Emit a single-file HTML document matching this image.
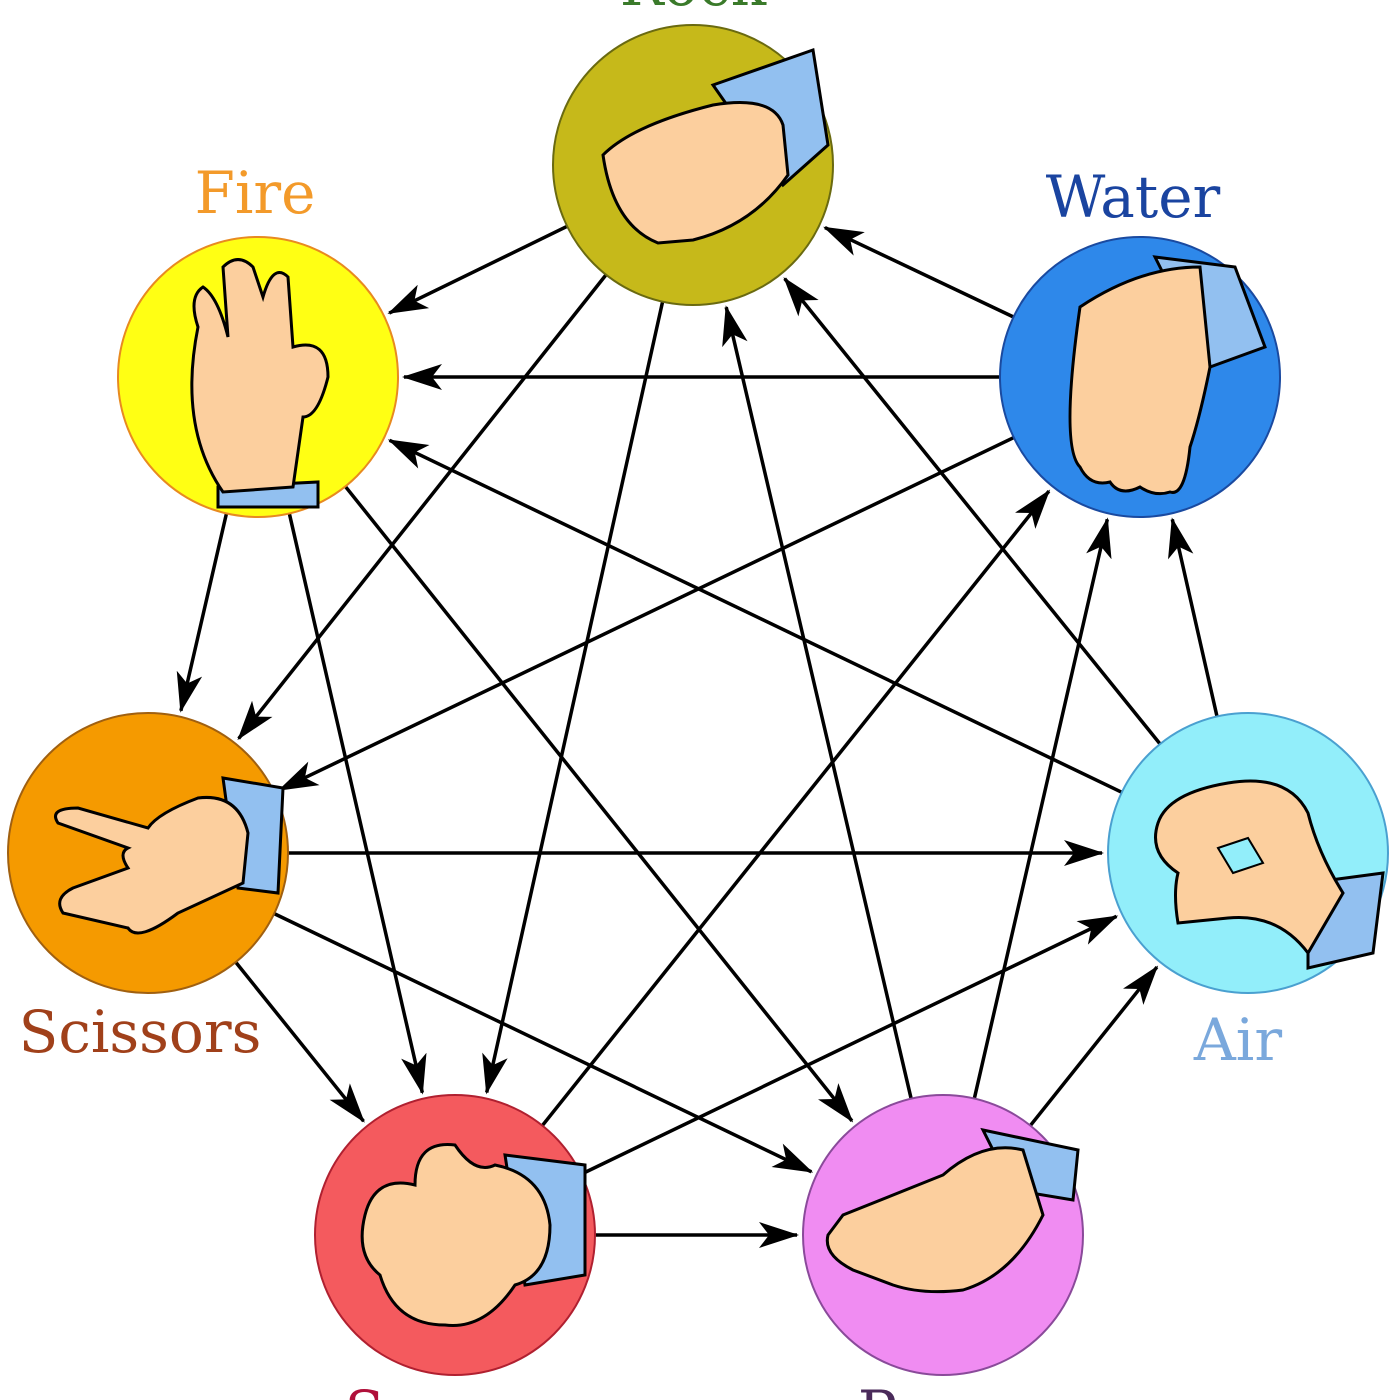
<!DOCTYPE html>
<html><head><meta charset="utf-8"><style>
html,body{margin:0;padding:0;background:#fff;width:1400px;height:1400px;overflow:hidden}
svg{display:block}
text{font-family:"DejaVu Serif","Liberation Serif",serif;font-size:58px}
</style></head><body>
<svg id="s" width="1400" height="1400" viewBox="0 0 1400 1400" xmlns="http://www.w3.org/2000/svg">
<defs>
<marker id="m" markerWidth="40" markerHeight="30" refX="38" refY="15" orient="auto" markerUnits="userSpaceOnUse"><path d="M0,2 L40,15 L0,28 L10,15 Z" fill="#000"/></marker></defs>
<g id="edges" stroke="#000" stroke-width="3.5" fill="none"></g>
<g id="nodes"></g>
<text x="693" y="5" text-anchor="middle" fill="#3a7a2a">Rock</text>
<text x="255" y="213" text-anchor="middle" fill="#f39a2a">Fire</text>
<text x="1133" y="217" text-anchor="middle" fill="#1a44a0">Water</text>
<text x="140" y="1052" text-anchor="middle" fill="#a0401a">Scissors</text>
<text x="1238" y="1060" text-anchor="middle" fill="#7aa8dc">Air</text>
<text x="455" y="1432" text-anchor="middle" fill="#b0103a">Sponge</text>
<text x="943" y="1432" text-anchor="middle" fill="#4a2a5a">Paper</text>
</svg>
<script>
var N=[[693,165,"#c6b91a","#6a6a10"],[258,377,"#ffff14","#e88a20"],[148,853,"#f59a00","#a06010"],[455,1235,"#f45a5e","#b02030"],[943,1235,"#f08cf2","#8a4a9a"],[1248,853,"#92eefa","#4aa0d0"],[1140,377,"#2e88ea","#1a4aa0"]];
var R=140,ns="http://www.w3.org/2000/svg";
function el(t,a,p){var e=document.createElementNS(ns,t);for(var k in a)e.setAttribute(k,a[k]);p.appendChild(e);return e;}
var E=document.getElementById("edges"),G=document.getElementById("nodes");
for(var i=0;i<7;i++)for(var d=1;d<=3;d++){var a=N[i],b=N[(i+d)%7];var dx=b[0]-a[0],dy=b[1]-a[1],L=Math.hypot(dx,dy),ux=dx/L,uy=dy/L;
el("line",{x1:a[0]+ux*R,y1:a[1]+uy*R,x2:b[0]-ux*(R+6),y2:b[1]-uy*(R+6),"marker-end":"url(#m)"},E);}
var skin="#fccf9e",sl="#92c0f0";
N.forEach(function(n,i){el("circle",{cx:n[0],cy:n[1],r:R,fill:n[2],stroke:n[3],"stroke-width":2},G);
var g=el("g",{transform:"translate("+n[0]+","+n[1]+")",stroke:"#000","stroke-width":3},G);
if(i==0){el("path",{d:"M20,-80 L120,-115 L135,-20 L90,20 Z",fill:sl},g);el("path",{d:"M-90,-10 Q-60,-40 20,-60 Q80,-70 90,-40 L95,10 Q60,60 0,75 L-35,78 Q-80,60 -90,-10 Z",fill:skin},g);}
else if(i==1){el("path",{d:"M-40,110 L60,105 L60,130 L-40,130 Z",fill:sl},g);el("path",{d:"M-60,-50 Q-70,-80 -55,-90 Q-40,-80 -30,-40 L-35,-110 Q-20,-125 -5,-110 L5,-80 Q15,-115 30,-100 L35,-30 Q70,-40 70,0 Q60,40 45,40 L35,110 L-35,115 Q-80,50 -60,-50 Z",fill:skin},g);}
else if(i==2){el("path",{d:"M75,-75 L135,-65 L130,40 L90,35 Z",fill:sl},g);el("path",{d:"M-90,-30 Q-100,-45 -70,-45 L0,-25 Q10,-40 50,-55 Q90,-60 100,-20 L95,30 L30,60 Q-10,90 -20,75 L-85,60 Q-95,45 -75,35 L-20,15 Q-30,0 -20,-5 Z",fill:skin},g);}
else if(i==3){el("path",{d:"M50,-80 L130,-70 L130,40 L70,50 Z",fill:sl},g);el("path",{d:"M-90,-20 Q-80,-60 -40,-50 Q-40,-95 0,-90 Q20,-60 40,-70 Q90,-60 95,-10 Q95,40 60,50 Q30,95 -10,90 Q-60,90 -75,40 Q-100,20 -90,-20 Z",fill:skin},g);}
else if(i==4){el("path",{d:"M40,-105 L135,-85 L130,-35 L70,-45 Z",fill:sl},g);el("path",{d:"M-115,0 Q-120,20 -90,35 L-50,50 Q-20,60 20,55 Q70,40 100,-20 L80,-85 Q40,-95 0,-60 L-100,-20 Z",fill:skin},g);}
else if(i==5){el("path",{d:"M60,30 L135,20 L125,100 L60,115 Z",fill:sl},g);el("path",{d:"M-90,-30 Q-80,-60 -20,-70 Q40,-80 60,-40 Q70,0 95,40 L60,100 Q30,60 -20,65 L-70,70 Q-75,40 -70,20 Q-100,0 -90,-30 Z",fill:skin},g);el("path",{d:"M-30,-5 L0,-15 L15,10 L-15,20 Z",fill:n[2],"stroke-width":2},g);}
else{el("path",{d:"M15,-120 L95,-110 L125,-30 L70,-10 Z",fill:sl},g);el("path",{d:"M-60,-70 Q0,-110 60,-110 L70,-10 Q60,40 50,70 Q45,120 30,115 Q15,120 0,110 Q-20,120 -30,105 Q-50,110 -60,90 Q-80,70 -60,-70 Z",fill:skin},g);}
});
</script>
</body></html>
